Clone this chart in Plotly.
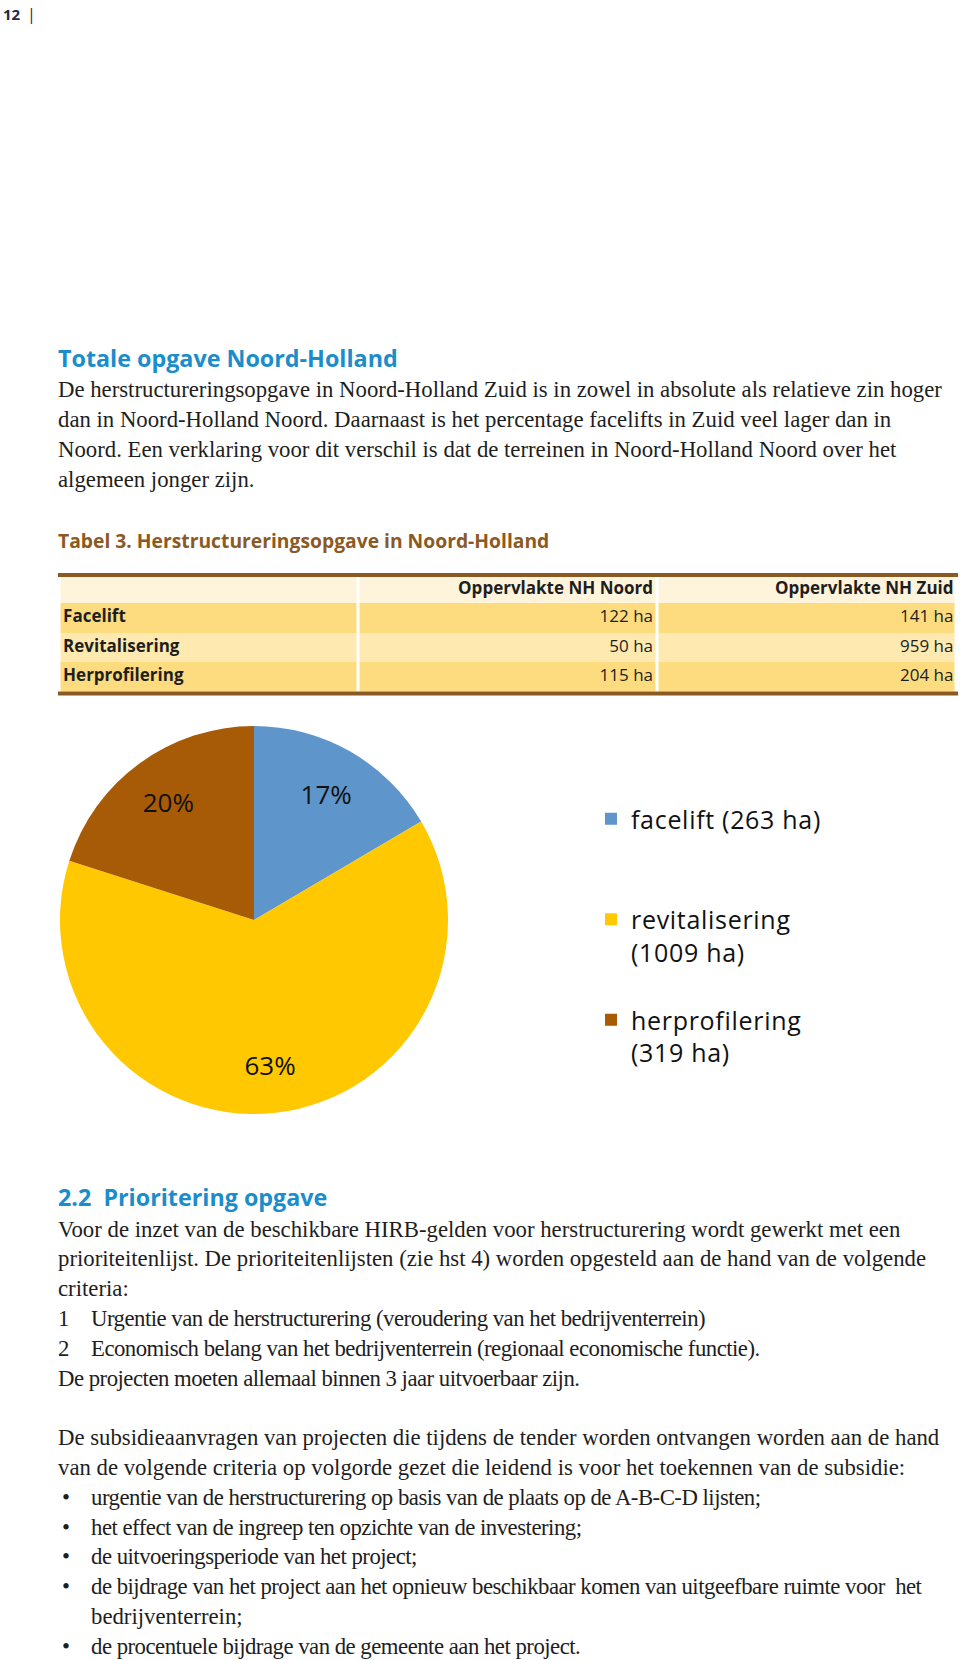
import plotly.graph_objects as go

W, H = 960, 1660

# ---------------- data ----------------
categories = ["Facelift", "Revitalisering", "Herprofilering"]
legend_names = ["facelift", "revitalisering", "herprofilering"]
noord_ha = [122, 50, 115]
zuid_ha = [141, 959, 204]
col_headers = ["Oppervlakte NH Noord", "Oppervlakte NH Zuid"]
pie_colors = ["#5e95cb", "#ffc800", "#a85b06"]
legend_wrap = [False, True, True]

totals = [n + z for n, z in zip(noord_ha, zuid_ha)]

intro_lines = [
    "De herstructureringsopgave in Noord-Holland Zuid is in zowel in absolute als relatieve zin hoger",
    "dan in Noord-Holland Noord. Daarnaast is het percentage facelifts in Zuid veel lager dan in",
    "Noord. Een verklaring voor dit verschil is dat de terreinen in Noord-Holland Noord over het",
    "algemeen jonger zijn.",
]
# (marker, text, condensed, indented)
section2_lines = [
    ("", "Voor de inzet van de beschikbare HIRB-gelden voor herstructurering wordt gewerkt met een", False, False),
    ("", "prioriteitenlijst. De prioriteitenlijsten (zie hst 4) worden opgesteld aan de hand van de volgende", False, False),
    ("", "criteria:", False, False),
    ("1", "Urgentie van de herstructurering (veroudering van het bedrijventerrein)", True, True),
    ("2", "Economisch belang van het bedrijventerrein (regionaal economische functie).", True, True),
    ("", "De projecten moeten allemaal binnen 3 jaar uitvoerbaar zijn.", True, False),
    None,
    ("", "De subsidieaanvragen van projecten die tijdens de tender worden ontvangen worden aan de hand", False, False),
    ("", "van de volgende criteria op volgorde gezet die leidend is voor het toekennen van de subsidie:", False, False),
    ("•", "urgentie van de herstructurering op basis van de plaats op de A-B-C-D lijsten;", True, True),
    ("•", "het effect van de ingreep ten opzichte van de investering;", True, True),
    ("•", "de uitvoeringsperiode van het project;", True, True),
    ("•", "de bijdrage van het project aan het opnieuw beschikbaar komen van uitgeefbare ruimte voor  het", True, True),
    ("", "bedrijventerrein;", False, True),
    ("•", "de procentuele bijdrage van de gemeente aan het project.", True, True),
]

# ---------------- styles ----------------
SERIF = "Liberation Serif"
SANS = "Open Sans"
TEXT = "#1e1e1e"
BLUE = "#1a8dcc"
BROWN = "#8b5a24"
HDR_FILL = "#fef4dc"
DARK_ROW = "#fddc80"
LIGHT_ROW = "#fee9b0"
BODY_SIZE = 22.75


def px(x):
    return x / W


def py(y):
    return 1 - y / H


annotations = []


def add_text(x, y, text, size, color=TEXT, family=SERIF, anchor="left"):
    annotations.append(dict(
        x=px(x), y=py(y), xref="paper", yref="paper", xanchor=anchor, yanchor="middle",
        text=text, showarrow=False, align="left",
        font=dict(family=family, size=size, color=color),
    ))


# page number
add_text(1, 14, "<b>12</b>", 15, "#1c2b4b", SANS)
add_text(25, 14, "|", 16, "#1c2b4b", SANS)

# headings and body
add_text(56, 358, "<b>Totale opgave Noord-Holland</b>", 23.3, BLUE, SANS)
for i, line in enumerate(intro_lines):
    add_text(56, 389.5 + 30 * i, line, BODY_SIZE)

add_text(56, 540, "<b>Tabel 3. Herstructureringsopgave in Noord-Holland</b>", 19.3, BROWN, SANS)

add_text(56, 1197, "<b>2.2  Prioritering opgave</b>", 23.3, BLUE, SANS)
y0 = 1229
for i, item in enumerate(section2_lines):
    if item is None:
        continue
    marker, text, condensed, indented = item
    y = y0 + 29.8 * i
    if condensed:
        text = f"<span style='letter-spacing:-0.5px'>{text}</span>"
    if marker:
        add_text(56 if marker != "•" else 60, y, marker, BODY_SIZE)
    add_text(89 if indented else 56, y, text, BODY_SIZE)

# ---------------- table (heatmap cells + text on hidden axes) ----------------
row_heights = [26, 29.5, 29.5, 29.5]
edges = [0]
for h in row_heights:
    edges.append(edges[-1] + h)
centers = [(a + b) / 2 for a, b in zip(edges[:-1], edges[1:])]
TABLE_TOP, TABLE_LEFT, TABLE_RIGHT = 577, 58, 958
table_bottom = TABLE_TOP + edges[-1]

z = [[0, 0, 0]] + [[1 + (i % 2)] * 3 for i in range(len(categories))]
cells = go.Heatmap(
    z=z, x=[0, 1, 2, 3], y=edges, xgap=3, ygap=0,
    colorscale=[[0, HDR_FILL], [0.5, DARK_ROW], [1, LIGHT_ROW]], zmin=0, zmax=2,
    showscale=False, hoverinfo="skip",
)
tfont = dict(family=SANS, size=17, color=TEXT)
label_text = go.Scatter(
    x=[0.012] * len(categories), y=centers[1:], mode="text",
    text=[f"<b>{c}</b>" for c in categories], textposition="middle right",
    textfont=tfont, showlegend=False, hoverinfo="skip",
)
noord_text = go.Scatter(
    x=[1.985] * (len(noord_ha) + 1), y=centers, mode="text",
    text=[f"<b>{col_headers[0]}</b>"] + [f"{v} ha" for v in noord_ha], textposition="middle left",
    textfont=tfont, showlegend=False, hoverinfo="skip",
)
zuid_text = go.Scatter(
    x=[2.99] * (len(zuid_ha) + 1), y=centers, mode="text",
    text=[f"<b>{col_headers[1]}</b>"] + [f"{v} ha" for v in zuid_ha], textposition="middle left",
    textfont=tfont, showlegend=False, hoverinfo="skip",
)

# ---------------- pie ----------------
legend_labels = []
for name, tot, wrap in zip(legend_names, totals, legend_wrap):
    lines = [name, f"({tot} ha)"] if wrap else [f"{name} ({tot} ha)"]
    lines = [f"<span style='letter-spacing:0.7px'>{ln}</span>" for ln in lines]
    while len(lines) < 3:
        lines.append(" ")
    legend_labels.append("<br>".join(lines))

pie_domain = dict(x=[px(60), px(448)], y=[py(1114), py(726)])
pie = go.Pie(
    values=totals, labels=legend_labels, sort=False, direction="clockwise", rotation=0,
    marker=dict(colors=pie_colors, line=dict(width=0)),
    textinfo="none", hoverinfo="percent", domain=pie_domain, showlegend=True,
)
pie_text = go.Pie(
    values=totals, labels=legend_labels, sort=False, direction="clockwise", rotation=0,
    hole=0.5,
    marker=dict(colors=["rgba(0,0,0,0)"] * 3, line=dict(width=0)),
    texttemplate="%{percent:.0%}", textposition="inside", insidetextorientation="horizontal",
    textfont=dict(family=SANS, size=26, color="#111111"),
    hoverinfo="skip", domain=pie_domain, showlegend=False,
)

fig = go.Figure(data=[cells, label_text, noord_text, zuid_text, pie, pie_text])

shapes = [
    dict(type="rect", xref="paper", yref="paper", x0=px(TABLE_LEFT), x1=px(TABLE_RIGHT),
         y0=py(TABLE_TOP), y1=py(TABLE_TOP - 4), fillcolor=BROWN, line=dict(width=0)),
    dict(type="rect", xref="paper", yref="paper", x0=px(TABLE_LEFT), x1=px(TABLE_RIGHT),
         y0=py(table_bottom + 4), y1=py(table_bottom), fillcolor=BROWN, line=dict(width=0)),
]

fig.update_layout(
    width=W, height=H, autosize=False,
    margin=dict(l=0, r=0, t=0, b=0),
    paper_bgcolor="white", plot_bgcolor="white",
    xaxis=dict(domain=[px(TABLE_LEFT), px(TABLE_RIGHT)], range=[-0.005, 3.005], visible=False,
               fixedrange=True),
    yaxis=dict(domain=[py(table_bottom), py(TABLE_TOP)], range=[edges[-1], 0], visible=False,
               fixedrange=True),
    annotations=annotations, shapes=shapes,
    showlegend=True,
    legend=dict(
        x=px(591), y=py(796), xanchor="left", yanchor="top",
        font=dict(family=SANS, size=25, color="#111111"),
        valign="top", bgcolor="rgba(0,0,0,0)", borderwidth=0,
    ),
)

fig.write_html("out.html", config={"displayModeBar": False},
               post_script="document.body.style.margin='0px';")
